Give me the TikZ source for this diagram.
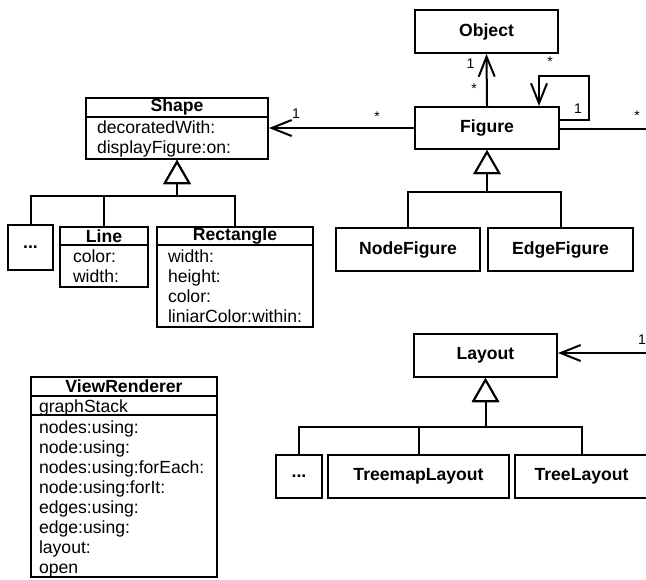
\documentclass[tikz,border=0pt]{standalone}
\usepackage{fontspec}
\setmainfont{Liberation Sans}
\usetikzlibrary{positioning,arrows.meta,calc}

\begin{document}
\begin{tikzpicture}[x=0.5pt, y=-0.5pt, line width=1pt,
  font=\fontsize{8.8}{10}\selectfont,
  cls/.style={draw, line width=1pt, inner sep=0pt, font=\fontsize{8.8}{10}\selectfont\bfseries},
  hd/.style={inner sep=0pt, font=\fontsize{8.8}{10}\selectfont\bfseries},
  attr/.style={anchor=west, inner sep=0pt, text height=1.5ex, text depth=.25ex},
  mult/.style={inner sep=0pt, font=\fontsize{7}{8}\selectfont},
  assoc/.style={-{Straight Barb[length=10pt, width=8pt]}},
  inh/.style={-{Triangle[open, length=12pt, width=13.5pt, fill=white]}}]
  \useasboundingbox (0,0) rectangle (646,579);
  \clip (0,0) rectangle (646,579);

  % klassen rechts
  \node[cls, minimum width=71.5pt, minimum height=21.5pt] (object) at (486.5,31.5) {Object};
  \node[cls, minimum width=72pt, minimum height=21pt] (figure) at (487,128) {Figure};
  \node[cls, minimum width=72pt, minimum height=21.5pt] (nodefig) at (408,249.5) {NodeFigure};
  \node[cls, minimum width=72.5pt, minimum height=21.5pt] (edgefig) at (560.5,249.5) {EdgeFigure};
  \node[cls, minimum width=71.5pt, minimum height=21.5pt] (layout) at (485.5,355.5) {Layout};
  \node[cls, minimum width=23pt, minimum height=21.5pt] (ldots) at (299,476.5) {...};
  \node[cls, minimum width=90.5pt, minimum height=21.5pt] (treemap) at (418.5,476.5) {TreemapLayout};
  \node[cls, minimum width=66.5pt, minimum height=21.5pt] (tree) at (581.5,476.5) {TreeLayout};

  % Shape mit unterklassen
  \node[cls, minimum width=91pt, minimum height=30.5pt] (shape) at (177,128.5) {};
  \draw ([yshift=-10pt]shape.north west) -- ([yshift=-10pt]shape.north east);
  \node[hd] at ([yshift=-5pt]shape.north) {Shape};
  \node[attr] at ($(shape.north west)+(11,30)$) {decoratedWith:};
  \node[attr] at ($(shape.north west)+(11,50)$) {displayFigure:on:};

  \node[cls, minimum width=22.5pt, minimum height=22.5pt] (sdots) at (30.5,247.5) {...};

  \node[cls, minimum width=44pt, minimum height=30pt] (linecls) at (104,257) {};
  \draw ([yshift=-9.5pt]linecls.north west) -- ([yshift=-9.5pt]linecls.north east);
  \node[hd] at ([yshift=-5pt]linecls.north) {Line};
  \foreach \t [count=\i] in {color:, width:}
    \node[attr] at ($(linecls.north west)+(13,10+20*\i)$) {\t};

  \node[cls, minimum width=78pt, minimum height=50pt] (rect) at (235,277) {};
  \draw ([yshift=-9.5pt]rect.north west) -- ([yshift=-9.5pt]rect.north east);
  \node[hd] at ([yshift=-5pt]rect.north) {Rectangle};
  \foreach \t [count=\i] in {width:, height:, color:, liniarColor:within:}
    \node[attr] at ($(rect.north west)+(11,10+20*\i)$) {\t};

  % ViewRenderer
  \node[cls, minimum width=93pt, minimum height=100pt] (view) at (124,477) {};
  \draw ([yshift=-10pt]view.north west) -- ([yshift=-10pt]view.north east);
  \draw ([yshift=-19.5pt]view.north west) -- ([yshift=-19.5pt]view.north east);
  \node[hd] at ([yshift=-5pt]view.north) {ViewRenderer};
  \node[attr] at ($(view.north west)+(8,30)$) {graphStack};
  \foreach \t [count=\i] in {nodes:using:, node:using:, nodes:using:forEach:, node:using:forIt:,
      edges:using:, edge:using:, layout:, open}
    \node[attr] at ($(view.north west)+(8,31+20*\i)$) {\t};

  % assoziationen
  \draw[assoc] (figure.north) -- (object.south);
  \node[mult] at ($(object.south)+(-16,10)$) {1};
  \node[mult] at ($(figure.north)+(-13,-17)$) {*};

  \draw[assoc] ([yshift=4pt]figure.east) -| ($(figure.north east)+(29,-30)$) -| ($(figure.north)+(52,0)$);
  \node[mult] at ($(figure.north)+(63,-44)$) {*};
  \node[mult] at ($(figure.north east)+(18,3)$) {1};

  \draw[assoc] (figure.west) -- (shape.east |- figure.west);
  \node[mult] at ($(figure.west)+(-37,-11)$) {*};
  \node[mult] at ($(shape.east)+(27,-15)$) {1};

  \coordinate (figout) at (650,129);
  \draw (figure.east |- figout) -- (figout);
  \node[mult] at ($(figout)+(-13,-13)$) {*};

  \coordinate (layin) at (650,353);
  \draw[assoc] (layin) -- (layout.east |- layin);
  \node[mult] at ($(layin)+(-8,-13)$) {1};

  % vererbung
  \coordinate (shapejn) at ($(shape.south)+(0,36)$);
  \foreach \c in {sdots, linecls, rect}
    \draw[inh] (\c.north) |- (shapejn) -- (shape.south);
  \coordinate (figjn) at ($(figure.south)+(0,42)$);
  \foreach \c in {nodefig, edgefig}
    \draw[inh] (\c.north) |- (figjn) -- (figure.south);
  \coordinate (layjn) at ($(layout.south)+(0,49)$);
  \foreach \c in {ldots, treemap, tree}
    \draw[inh] (\c.north) |- (layjn) -- (layout.south);
\end{tikzpicture}
\end{document}
